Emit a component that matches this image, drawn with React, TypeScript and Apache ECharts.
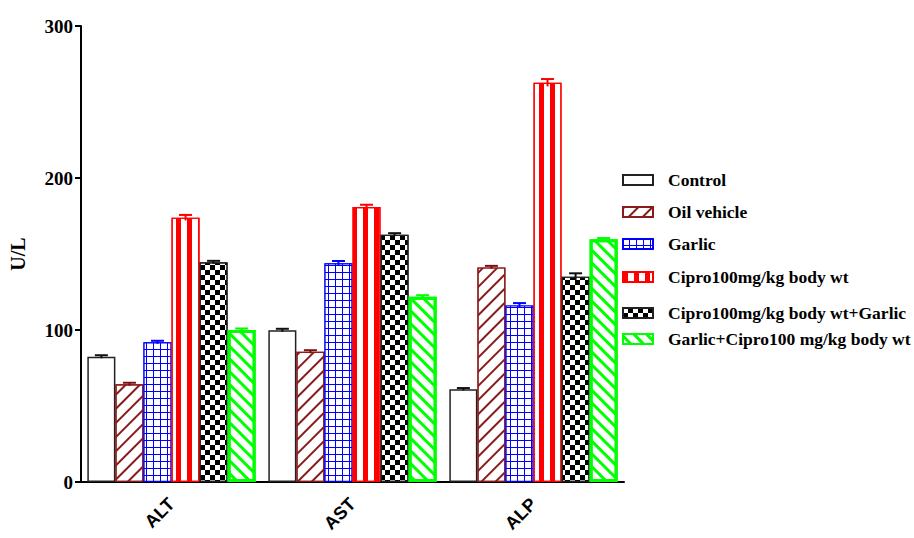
import React, { useEffect, useRef } from 'react';
import * as echarts from 'echarts';

const categories = ['ALT', 'AST', 'ALP'];
const seriesNames = [
  'Control',
  'Oil vehicle',
  'Garlic',
  'Cipro100mg/kg body wt',
  'Cipro100mg/kg body wt+Garlic',
  'Garlic+Cipro100 mg/kg body wt',
];
const control = [82.4, 99.8, 61];
const oilVehicle = [64.3, 85.7, 141.2];
const garlic = [91.9, 143.9, 116.2];
const cipro = [173.9, 180.9, 262.7];
const ciproGarlic = [144.5, 162.7, 135.1];
const garlicCipro = [100, 121.9, 159.7];

const controlErr = [1, 1, 0.8];
const oilVehicleErr = [1, 1, 1];
const garlicErr = [1, 1.5, 1.5];
const ciproErr = [1.8, 1.5, 2.4];
const ciproGarlicErr = [1, 1, 2.2];
const garlicCiproErr = [1, 1, 0.8];

const yTicks = [0, 100, 200, 300];

const allValues = [control, oilVehicle, garlic, cipro, ciproGarlic, garlicCipro];
const allErrs = [controlErr, oilVehicleErr, garlicErr, ciproErr, ciproGarlicErr, garlicCiproErr];

const GAP = 0.07;

export default function App() {
  const ref = useRef<HTMLDivElement>(null);
  useEffect(() => {
    document.body.style.margin = '0';
    const chart = echarts.init(ref.current!, null, { renderer: 'svg' });

    const styles: any[] = [
      { color: '#ffffff', borderColor: '#222222', borderWidth: 1.5 },
      {
        color: '#ffffff', borderColor: '#8B1A1A', borderWidth: 1.2,
        decal: { symbol: 'rect', symbolKeepAspect: false, color: '#8B1A1A', dashArrayX: [1, 0], dashArrayY: [2, 8], rotation: -Math.PI / 4 },
      },
      {
        color: '#0000FF', borderColor: '#0000FF', borderWidth: 1.2,
        decal: { symbol: 'rect', symbolKeepAspect: false, color: '#ffffff', dashArrayX: [6, 1], dashArrayY: [6, 1] },
      },
      {
        color: '#ffffff', borderColor: '#FF0000', borderWidth: 1.2,
        decal: { symbol: 'rect', symbolKeepAspect: false, color: '#FF0000', dashArrayX: [5, 6], dashArrayY: [10, 0] },
      },
      {
        color: '#ffffff', borderColor: '#222222', borderWidth: 1.2,
        decal: { symbol: 'rect', symbolKeepAspect: false, color: '#000000', dashArrayX: [[5, 5], [0, 5, 5, 0]], dashArrayY: [5, 0] },
      },
      {
        color: '#ffffff', borderColor: '#00FF00', borderWidth: 3,
        decal: { symbol: 'rect', symbolKeepAspect: false, color: '#00FF00', dashArrayX: [1, 0], dashArrayY: [3, 6], rotation: Math.PI / 4 },
      },
    ];
    const errColors = ['#111111', '#7a1010', '#0000FF', '#FF0000', '#111111', '#00FF00'];

    const barSeries = seriesNames.map((name, i) => ({
      type: 'bar',
      name,
      data: allValues[i],
      barGap: '0%',
      barCategoryGap: '7%',
      itemStyle: styles[i],
    }));

    const errData: number[][] = [];
    allValues.forEach((vals, si) => {
      vals.forEach((v, ci) => errData.push([ci, v, allErrs[si][ci], si]));
    });

    const errSeries = {
      type: 'custom',
      name: 'err',
      data: errData,
      encode: { x: 0, y: 1 },
      z: 10,
      renderItem: (params: any, api: any) => {
        const ci = api.value(0);
        const v = api.value(1);
        const e = api.value(2);
        const si = api.value(3);
        const band = api.size([1, 0])[0];
        const total = band * (1 - GAP);
        const bw = total / 6;
        const c = api.coord([ci, v]);
        const x = c[0] - total / 2 + (si + 0.5) * bw;
        const top = api.coord([ci, v + e])[1];
        const bot = api.coord([ci, v - e])[1];
        const col = errColors[si];
        const hw = 6.5;
        return {
          type: 'group',
          children: [
            { type: 'line', shape: { x1: x, y1: bot, x2: x, y2: top }, style: { stroke: col, lineWidth: 2 } },
            { type: 'line', shape: { x1: x - hw, y1: top, x2: x + hw, y2: top }, style: { stroke: col, lineWidth: 2 } },
          ],
        };
      },
    };

    const legendY = [181, 213, 245, 278, 314, 340];
    const legends = seriesNames.map((n, i) => ({
      data: [n],
      orient: 'vertical',
      left: 617,
      top: legendY[i] - 15,
      itemWidth: 30,
      itemHeight: 10,
      icon: 'rect',
      selectedMode: false,
      textStyle: {
        fontFamily: 'Liberation Serif',
        fontWeight: 'bold',
        fontSize: 17.5,
        color: '#000',
        padding: [0, 0, 0, 10],
      },
    }));

    chart.setOption({
      animation: false,
      backgroundColor: '#ffffff',
      grid: { left: 81, right: 290, top: 26, bottom: 56, containLabel: false, outerBoundsMode: 'none' },
      legend: legends,
      xAxis: {
        type: 'category',
        data: categories,
        axisLine: { lineStyle: { color: '#000', width: 2 } },
        axisTick: { alignWithLabel: true, length: 6, lineStyle: { color: '#000', width: 2 } },
        axisLabel: {
          rotate: 45,
          margin: 19,
          color: '#000',
          fontFamily: 'Liberation Sans',
          fontWeight: 'bold',
          fontSize: 18,
        },
      },
      yAxis: {
        type: 'value',
        min: yTicks[0],
        max: yTicks[yTicks.length - 1],
        interval: 100,
        name: 'U/L',
        nameLocation: 'middle',
        nameGap: 53,
        nameRotate: 90,
        nameTextStyle: { fontFamily: 'Liberation Serif', fontWeight: 'bold', fontSize: 20, color: '#000' },
        axisLine: { show: true, lineStyle: { color: '#000', width: 2 } },
        axisTick: { show: true, length: 6, lineStyle: { color: '#000', width: 2 } },
        splitLine: { show: false },
        axisLabel: {
          margin: 8,
          color: '#000',
          fontFamily: 'Liberation Serif',
          fontWeight: 'bold',
          fontSize: 19,
        },
      },
      series: [...barSeries, errSeries],
    });
    return () => chart.dispose();
  }, []);
  return (
    <div
      ref={ref}
      style={{ position: 'fixed', left: 0, top: 0, width: 914, height: 538, background: '#fff' }}
    />
  );
}
